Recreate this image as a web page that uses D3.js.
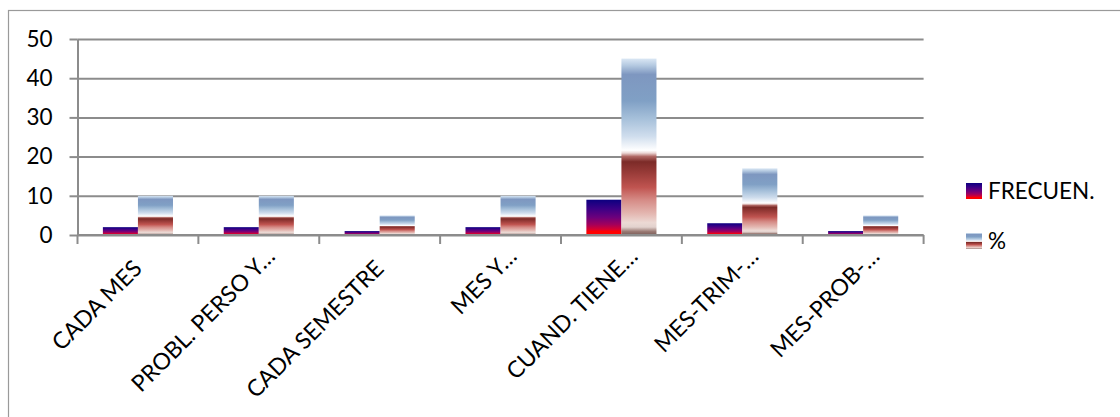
<!DOCTYPE html>
<html>
<head>
<meta charset="utf-8">
<script src="https://cdn.jsdelivr.net/npm/d3@7"></script>
<style>
  html, body { margin: 0; padding: 0; background: #fff; }
  svg { display: block; }
  text { font-family: Lato, "Open Sans", sans-serif; fill: #000; }
</style>
</head>
<body>
<svg id="chart" width="1120" height="417"></svg>
<script>
// ---- data ----
const categories = ["CADA MES", "PROBL. PERSO Y…", "CADA SEMESTRE", "MES  Y…", "CUAND. TIENE…", "MES-TRIM-…", "MES-PROB-…"];
const frecuen = [2, 2, 1, 2, 9, 3, 1];
const porcentaje = [10, 10, 5, 10, 45, 17, 5];
const seriesNames = ["FRECUEN.", "%"];
const yTicks = [0, 10, 20, 30, 40, 50];

const W = 1120, H = 417;
const svg = d3.select("#chart");
const fontSize = 22.5;
const labelSize = 23;

// gradients
const defs = svg.append("defs");
const g1 = defs.append("linearGradient").attr("id", "gradFrec")
  .attr("x1", 0).attr("y1", 0).attr("x2", 0).attr("y2", 1);
[[0, "#0c0080"], [0.25, "#3a0086"], [0.5, "#6c007c"], [0.7, "#a2005c"], [0.84, "#d80030"], [0.9, "#ff0000"], [1, "#ff0000"]]
  .forEach(([o, c]) => g1.append("stop").attr("offset", o).attr("stop-color", c));
const g2 = defs.append("linearGradient").attr("id", "gradPct")
  .attr("x1", 0).attr("y1", 0).attr("x2", 0).attr("y2", 1);
[[0, "#dae7f4"], [0.04, "#b3c8e0"], [0.09, "#7e97c0"], [0.24, "#80a0c5"], [0.34, "#a6c0da"], [0.44, "#cfdded"],
 [0.52, "#ffffff"], [0.535, "#ecd8d6"], [0.555, "#b06864"], [0.585, "#7c2b28"], [0.65, "#9a3c39"], [0.73, "#c05450"],
 [0.8, "#d58a85"], [0.88, "#e4b8b2"], [0.93, "#ecd9d4"], [0.955, "#e2d2ce"], [0.98, "#9a7a74"], [1, "#7a5c58"]]
  .forEach(([o, c]) => g2.append("stop").attr("offset", o).attr("stop-color", c));
const fills = ["url(#gradFrec)", "url(#gradPct)"];

// outer border
svg.append("rect").attr("x", 8.5).attr("y", 10.5).attr("width", 1200).attr("height", 500)
  .attr("fill", "none").attr("stroke", "#9a9a9a").attr("stroke-width", 1.2);

// scales
const plotL = 77.5, plotR = 923.6, plotT = 39, plotB = 235;
const x0 = d3.scaleBand().domain(categories).range([plotL, plotR]).paddingInner(0).paddingOuter(0);
const groupW = x0.bandwidth() * 0.58;
const x1 = d3.scaleBand().domain(seriesNames).range([0, groupW]).padding(0);
const y = d3.scaleLinear().domain([0, 50]).range([plotB, plotT]);

// gridlines
const grid = svg.append("g").attr("transform", `translate(${plotL},0)`)
  .call(d3.axisLeft(y).tickValues(yTicks).tickSize(-(plotR - plotL)).tickFormat(""));
grid.select(".domain").remove();
grid.selectAll("line").attr("stroke", "#8c8c8c").attr("stroke-width", 2);

// bars
const data = categories.map((c, i) => ({ cat: c, vals: [frecuen[i], porcentaje[i]] }));
const groups = svg.append("g").selectAll("g").data(data).join("g")
  .attr("transform", d => `translate(${x0(d.cat) + (x0.bandwidth() - groupW) / 2},0)`);
groups.selectAll("rect").data(d => d.vals.map((v, j) => ({ name: seriesNames[j], v, j })))
  .join("rect")
  .attr("x", d => x1(d.name))
  .attr("width", x1.bandwidth())
  .attr("y", d => y(d.v))
  .attr("height", d => y(0) - y(d.v))
  .attr("fill", d => fills[d.j]);

// y axis
const yAxis = svg.append("g").attr("transform", `translate(${plotL},0)`)
  .call(d3.axisLeft(y).tickValues(yTicks).tickSize(8).tickSizeOuter(0).tickPadding(17));
yAxis.select(".domain").attr("stroke", "#8c8c8c").attr("stroke-width", 2);
yAxis.selectAll(".tick line").attr("stroke", "#8c8c8c").attr("stroke-width", 2);
yAxis.selectAll("text").style("font-size", fontSize + "px").style("font-family", "Lato").attr("fill", "#000");

// x axis baseline and ticks at band boundaries
const xAx = svg.append("g");
xAx.append("line").attr("x1", plotL).attr("x2", plotR).attr("y1", y(0)).attr("y2", y(0))
  .attr("stroke", "#8c8c8c").attr("stroke-width", 2);
const bounds = d3.range(categories.length + 1).map(i => plotL + i * x0.step());
xAx.selectAll("line.tk").data(bounds).join("line").attr("class", "tk")
  .attr("x1", d => d).attr("x2", d => d).attr("y1", y(0)).attr("y2", y(0) + 9)
  .attr("stroke", "#8c8c8c").attr("stroke-width", 2);

// measure ellipsis width (ellipsis hangs past the anchor, as in the original)
const tmp = svg.append("text").style("font-size", labelSize + "px").text("…");
const ellW = tmp.node().getComputedTextLength();
tmp.remove();

xAx.selectAll("text").data(categories).join("text")
  .attr("transform", d => `translate(${x0(d) + x0.bandwidth() / 2 + 5.5},${y(0) + 35}) rotate(-45)`)
  .attr("text-anchor", "end")
  .attr("dx", d => d.endsWith("…") ? ellW : 0)
  .style("font-size", labelSize + "px")
  .text(d => d);

// legend
const legend = svg.append("g");
const legY = [191, 241];
seriesNames.forEach((s, i) => {
  legend.append("rect").attr("x", 966).attr("y", legY[i] - 8).attr("width", 16).attr("height", 16)
    .attr("fill", fills[i]);
  legend.append("text").attr("x", 988).attr("y", legY[i]).attr("dy", "0.35em")
    .style("font-size", fontSize + "px").text(s);
});
</script>
</body>
</html>
